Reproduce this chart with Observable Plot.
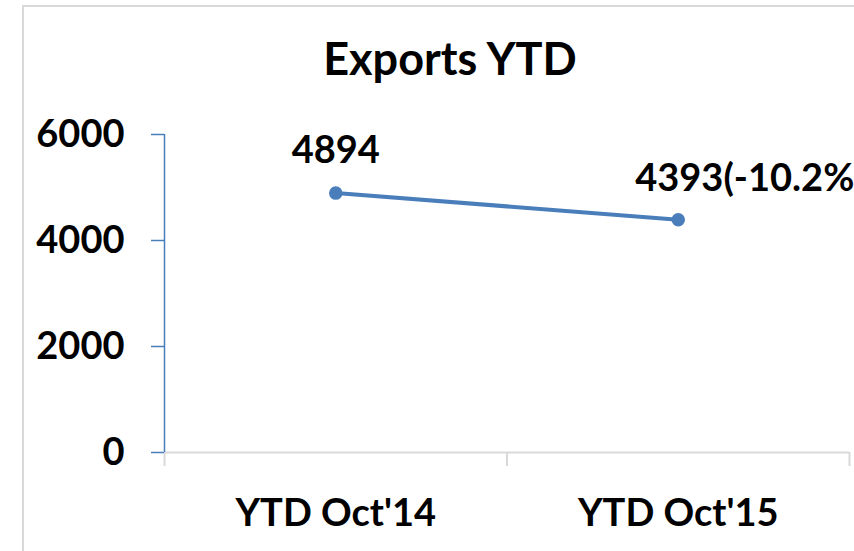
<!DOCTYPE html>
<html><head><meta charset="utf-8">
<script src="https://cdn.jsdelivr.net/npm/d3@7"></script>
<script src="https://cdn.jsdelivr.net/npm/@observablehq/plot@0.6"></script>
<style>
html,body{margin:0;padding:0;background:#fff;overflow:hidden;width:854px;height:551px;}
#wrap{position:relative;width:854px;height:551px;}
#border{position:absolute;left:22px;top:5px;width:900px;height:600px;border-left:2px solid #d9d9d9;border-top:2px solid #d9d9d9;box-sizing:border-box;}
#title{position:relative;height:95px;box-sizing:border-box;padding-left:46px;padding-top:31px;text-align:center;font-family:Lato;font-weight:bold;font-size:45px;line-height:54px;color:#000;}
#chart{position:relative;}
</style>
</head><body>
<div id="wrap"><div id="border"></div><div id="title">Exports YTD</div><div id="chart"></div></div>
<script>
const categories = ["YTD Oct'14", "YTD Oct'15"];
const values = [4894, 4393];
const labels = ["4894", "4393(-10.2%)"];
const yTicks = [0, 2000, 4000, 6000];

const data = categories.map((c, i) => ({i, c, v: values[i], label: labels[i]}));
const blue = "#4A7EBB";
const font = "Lato";

const plot = Plot.plot({
  width: 854,
  height: 456,
  marginLeft: 164,
  marginRight: 5,
  marginTop: 39,
  marginBottom: 99,
  style: {fontFamily: font, fontWeight: "bold", fontSize: "38px", color: "#000", background: "transparent"},
  x: {type: "linear", domain: [-0.5, categories.length - 0.5], label: null},
  y: {domain: [0, 6000], label: null},
  marks: [
    Plot.ruleY([0], {stroke: "#d9d9d9", strokeWidth: 2}),
    Plot.axisX(d3.range(categories.length + 1).map(k => k - 0.5), {tickSize: 14, stroke: "#d9d9d9", strokeWidth: 2, tickFormat: () => "", label: null}),
    Plot.axisX(d3.range(categories.length), {tickSize: 0, tickPadding: 47, tickFormat: k => categories[k], fill: "#000", label: null}),
    Plot.axisY(yTicks, {tickSize: 13, tickPadding: 27, stroke: blue, strokeWidth: 1.5, fill: "#000", tickFormat: d => String(d), label: null}),
    Plot.ruleX([-0.5], {y1: 0, y2: 6000, stroke: blue, strokeWidth: 1.5}),
    Plot.line(data, {x: "i", y: "v", stroke: blue, strokeWidth: 4}),
    Plot.dot(data, {x: "i", y: "v", r: 6, fill: blue, stroke: blue}),
    Plot.text(data.filter(d => d.i === 0), {x: "i", y: "v", text: "label", lineAnchor: "bottom", dy: -30, fill: "#000"}),
    Plot.text(data.filter(d => d.i === 1), {x: "i", y: "v", text: "label", lineAnchor: "bottom", textAnchor: "start", dx: -43, dy: -29, fill: "#000"})
  ]
});
document.getElementById("chart").appendChild(plot);
</script>
</body></html>
